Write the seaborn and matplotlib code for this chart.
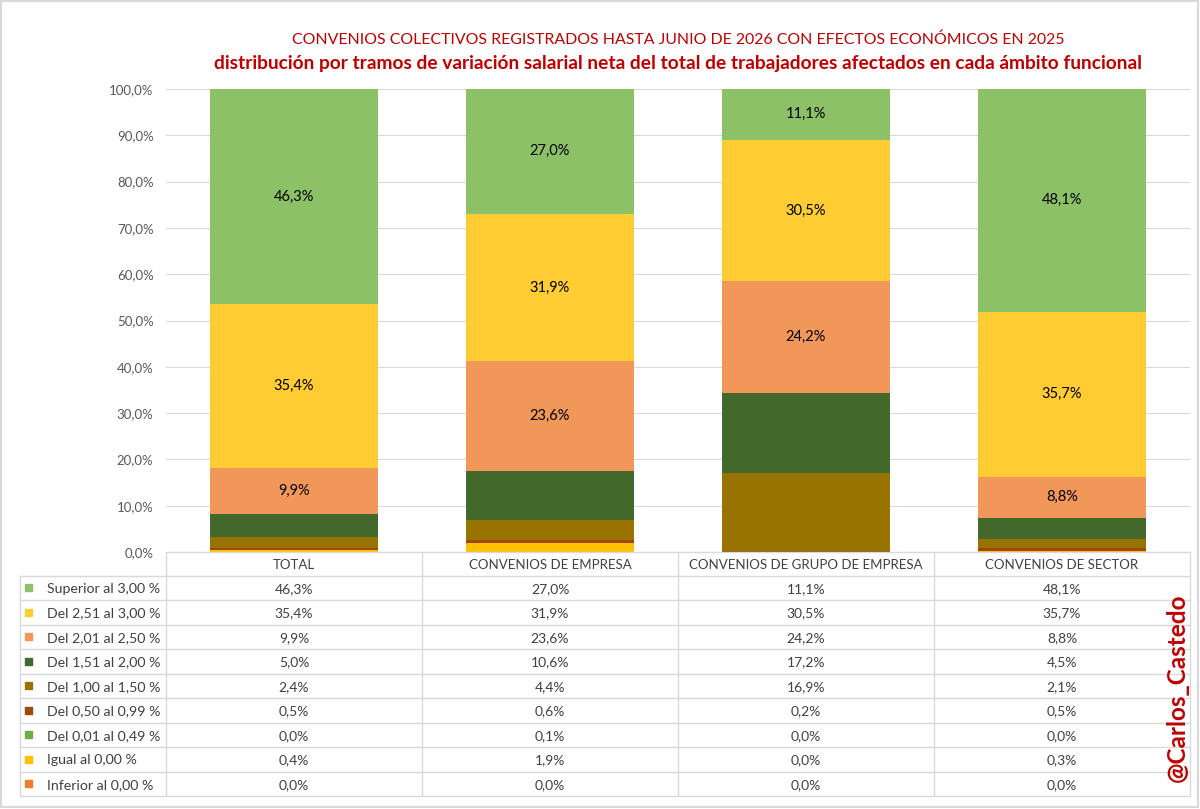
import numpy as np
import pandas as pd
import matplotlib
matplotlib.use("Agg")
import matplotlib.pyplot as plt
import seaborn as sns

# data (percent of workers)
categories = ["TOTAL", "CONVENIOS DE EMPRESA", "CONVENIOS DE GRUPO DE EMPRESA",
              "CONVENIOS DE SECTOR"]
tramos = ["Superior al 3,00 %", "Del 2,51 al 3,00 %", "Del 2,01 al 2,50 %",
          "Del 1,51 al 2,00 %", "Del 1,00 al 1,50 %", "Del 0,50 al 0,99 %",
          "Del 0,01 al 0,49 %", "Igual al 0,00 %", "Inferior al 0,00 %"]
superior = [46.3, 27.0, 11.1, 48.1]
del_251_300 = [35.4, 31.9, 30.5, 35.7]
del_201_250 = [9.9, 23.6, 24.2, 8.8]
del_151_200 = [5.0, 10.6, 17.2, 4.5]
del_100_150 = [2.4, 4.4, 16.9, 2.1]
del_050_099 = [0.5, 0.6, 0.2, 0.5]
del_001_049 = [0.0, 0.1, 0.0, 0.0]
igual = [0.4, 1.9, 0.0, 0.3]
inferior = [0.0, 0.0, 0.0, 0.0]
colores = ["#8DC168", "#FFCD33", "#F1975A", "#43682B", "#997300",
           "#9E480E", "#70AD47", "#FFC000", "#ED7D31"]

series = [superior, del_251_300, del_201_250, del_151_200, del_100_150,
          del_050_099, del_001_049, igual, inferior]
con_etiqueta = 3   # only the top three tramos get labels inside the bars

sns.set_style("whitegrid", {"grid.color": "#D9D9D9"})
plt.rcParams["font.family"] = ["Lato", "DejaVu Sans"]

W, H = 1200, 809
fig = plt.figure(figsize=(W / 100, H / 100), dpi=100)
ax = fig.add_axes([166 / W, 1 - 552 / H, 1024 / W, (552 - 89) / H])

# stacked bars: draw cumulative totals from the top tramo down so each
# lower tramo paints over the previous one
vals = np.array(series)            # rows ordered top -> bottom of stack
stack_top = vals[::-1].cumsum(axis=0)[::-1]
for i, col in enumerate(colores):
    df = pd.DataFrame({"cat": categories, "v": stack_top[i]})
    sns.barplot(data=df, x="cat", y="v", color=col, saturation=1,
                width=0.66, linewidth=0, ax=ax)

for i in range(con_etiqueta):
    for j, v in enumerate(vals[i]):
        ax.text(j, stack_top[i, j] - v / 2, f"{v:.1f}%".replace(".", ","),
                ha="center", va="center", fontsize=10.5, color="black")

ax.set_ylim(0, 100)
ax.set_xlim(-0.5, 3.5)
ax.set_yticks(range(0, 101, 10))
ax.set_yticklabels([f"{t:.1f}%".replace(".", ",") for t in range(0, 101, 10)])
ax.tick_params(axis="y", length=0, pad=9, labelsize=9.5, labelcolor="#595959")
ax.set_xticks([])
ax.set_xlabel("")
ax.set_ylabel("")
ax.grid(axis="x", visible=False)
for s in ax.spines.values():
    s.set_visible(False)

fig.text(678 / W, 1 - 40 / H,
         "CONVENIOS COLECTIVOS REGISTRADOS HASTA JUNIO DE 2026 CON EFECTOS ECONÓMICOS EN 2025",
         ha="center", va="center", color="#C00000", fontsize=11.4)
fig.text(678 / W, 1 - 64 / H,
         "distribución por tramos de variación salarial neta del total de trabajadores afectados en cada ámbito funcional",
         ha="center", va="center", color="#C00000", fontsize=13.8, fontweight="bold")

# data table underneath, drawn in pixel coordinates
tab = fig.add_axes([0, 0, 1, 1], facecolor="none")
tab.set_xlim(0, W)
tab.set_ylim(H, 0)
tab.axis("off")
cols = [166, 422, 678, 934, 1190]
y_head, y0, rh = 552, 575.5, 24.5
y_end = y0 + rh * len(tramos)
lc = "#D9D9D9"
tab.plot([166, 1190], [y_head, y_head], color=lc, lw=1)
for k in range(len(tramos) + 1):
    tab.plot([20, 1190], [y0 + k * rh] * 2, color=lc, lw=1)
tab.plot([20, 20], [y0, y_end], color=lc, lw=1)
for x in cols:
    tab.plot([x, x], [y_head, y_end], color=lc, lw=1)
for j, c in enumerate(categories):
    tab.text((cols[j] + cols[j + 1]) / 2, (y_head + y0) / 2 + 1, c,
             ha="center", va="center", fontsize=9.5, color="#404040")
for i, t in enumerate(tramos):
    yc = y0 + (i + 0.5) * rh
    tab.add_patch(plt.Rectangle((25, yc - 3.5), 7, 7, color=colores[i]))
    tab.text(47, yc + 1, t, ha="left", va="center", fontsize=10.2, color="#404040")
    for j, v in enumerate(vals[i]):
        tab.text((cols[j] + cols[j + 1]) / 2, yc + 1, f"{v:.1f}%".replace(".", ","),
                 ha="center", va="center", fontsize=10, color="#404040")

tab.text(1177, 688, "@Carlos_Castedo", rotation=90, ha="center", va="center",
         color="#C00000", fontsize=17.5, fontweight="bold")
tab.add_patch(plt.Rectangle((1, 1), W - 3, H - 3, fill=False, ec="#D9D9D9", lw=1.5))

fig.savefig("out.png", dpi=100)
